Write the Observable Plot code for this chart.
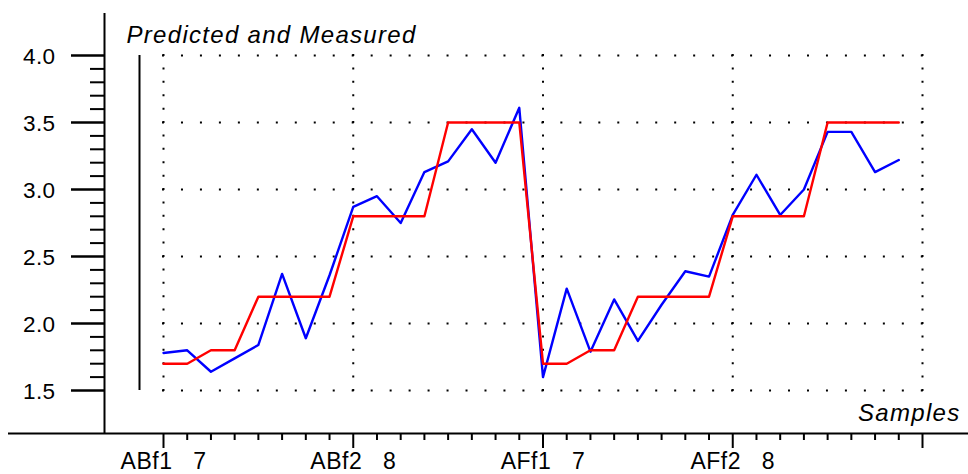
<!DOCTYPE html>
<html>
<head>
<meta charset="utf-8">
<script src="https://cdn.jsdelivr.net/npm/d3@7"></script>
<script src="https://cdn.jsdelivr.net/npm/@observablehq/plot@0.6"></script>
<style>
  html, body { margin: 0; padding: 0; background: #fff; }
  #chart svg { display: block; }
  g[font-size="22.5"] text { letter-spacing: 0.4px; }
  g[font-size="23"] text { letter-spacing: 0.5px; }
  g[font-style="italic"] text { letter-spacing: 1.3px; }
</style>
</head>
<body>
<div id="chart"></div>
<script>
// ---- data ----
const measured = [1.78, 1.80, 1.64, 1.74, 1.84, 2.37, 1.89, 2.36,
                  2.87, 2.95, 2.75, 3.13, 3.21, 3.45, 3.20, 3.61,
                  1.60, 2.26, 1.79, 2.18, 1.87, 2.14, 2.39, 2.35,
                  2.81, 3.11, 2.81, 3.00, 3.43, 3.43, 3.13, 3.22];
const predicted = [1.7, 1.7, 1.8, 1.8, 2.2, 2.2, 2.2, 2.2,
                   2.8, 2.8, 2.8, 2.8, 3.5, 3.5, 3.5, 3.5,
                   1.7, 1.7, 1.8, 1.8, 2.2, 2.2, 2.2, 2.2,
                   2.8, 2.8, 2.8, 2.8, 3.5, 3.5, 3.5, 3.5];
const sampleTicks = [0, 8, 16, 24, 32];
const sampleLabels = ["ABf1   7", "ABf2   8", "AFf1   7", "AFf2   8", ""];
const sampleMinorTicks = d3.range(0, 33).filter(d => d % 8 !== 0);
const yTicks = [1.5, 2.0, 2.5, 3.0, 3.5, 4.0];
const yMinorTicks = d3.range(15, 41).filter(d => d % 5 !== 0).map(d => d / 10);
const chartTitle = "Predicted and Measured";
const xTitle = "Samples";

const font = "'Liberation Sans', Arial, sans-serif";
const ink = "#000";

const plot = Plot.plot({
  width: 968,
  height: 474,
  marginLeft: 163,
  marginRight: 46,
  marginTop: 55,
  marginBottom: 84,
  x: {domain: [0, 32], axis: null},
  y: {domain: [1.5, 4.0], axis: null},
  style: {background: "#fff", fontFamily: font, overflow: "visible"},
  marks: [
    // dotted grid
    Plot.ruleY(yTicks, {x1: 0, x2: 32, stroke: ink, strokeWidth: 2,
      strokeDasharray: "0,18.97", strokeLinecap: "square"}),
    Plot.ruleX(sampleTicks, {y1: 1.5, y2: 4.0, stroke: ink, strokeWidth: 2,
      strokeDasharray: "0,13.398", strokeLinecap: "square"}),
    // inner left border
    Plot.ruleX([0], {dx: -24, stroke: ink, strokeWidth: 2}),
    // y axis line and ticks
    Plot.ruleX([0], {dx: -59, insetTop: -42, insetBottom: -43, stroke: ink, strokeWidth: 2}),
    Plot.ruleY(yTicks, {insetLeft: -92, insetRight: 818, stroke: ink, strokeWidth: 2.5}),
    Plot.ruleY(yMinorTicks, {insetLeft: -73, insetRight: 818, stroke: ink, strokeWidth: 2}),
    // x axis line and ticks
    Plot.ruleY([1.5], {dy: 43, insetLeft: -155, insetRight: -46, stroke: ink, strokeWidth: 2}),
    Plot.ruleX(sampleTicks, {insetTop: 378, insetBottom: -58, stroke: ink, strokeWidth: 2}),
    Plot.ruleX(sampleMinorTicks, {insetTop: 378, insetBottom: -50, stroke: ink, strokeWidth: 2}),
    // tick labels
    Plot.text(yTicks, {y: d => d, text: d => d.toFixed(1), frameAnchor: "left", dx: -108,
      dy: 1, textAnchor: "end", lineAnchor: "middle", fontSize: 22.5, fill: ink}),
    Plot.text(sampleTicks, {x: d => d, text: (d, i) => sampleLabels[i].replace(/ /g, "\u00a0"),
      frameAnchor: "bottom", dy: 78.5, lineAnchor: "bottom", fontSize: 23, fill: ink}),
    // titles
    Plot.text([chartTitle], {frameAnchor: "top-left", dx: -37, dy: -13, textAnchor: "start",
      lineAnchor: "bottom", fontSize: 24, fontStyle: "italic", fill: ink}),
    Plot.text([xTitle], {frameAnchor: "bottom-right", dx: 38, dy: 30, textAnchor: "end",
      lineAnchor: "bottom", fontSize: 24, fontStyle: "italic", fill: ink}),
    // data
    Plot.line(measured, {x: (d, i) => i, y: d => d, stroke: "#0000ff", strokeWidth: 2.4}),
    Plot.line(predicted, {x: (d, i) => i, y: d => d, stroke: "#ff0000", strokeWidth: 2.4})
  ]
});
document.getElementById("chart").appendChild(plot);
</script>
</body>
</html>
